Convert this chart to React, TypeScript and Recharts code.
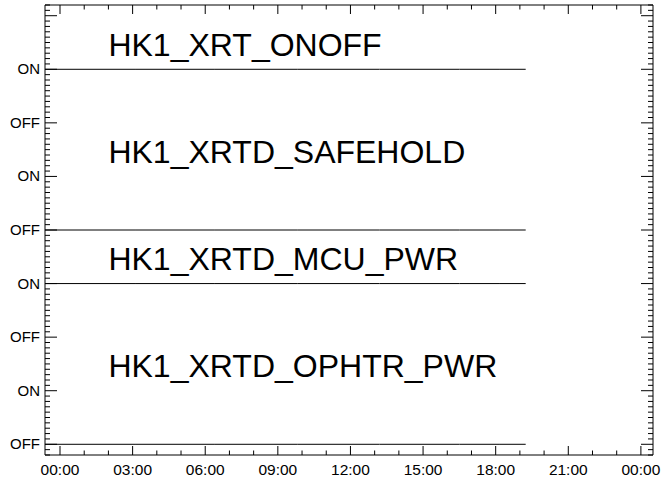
import * as React from "react";
import { LineChart, Line, XAxis, YAxis, ReferenceDot, ReferenceLine } from "recharts";

// sample times in hours since 00:00
const times = [-0.62, 3.1, 6.4, 9.8, 13.2, 16.5, 18.14, 19.24];
// channel states (0 = OFF, 1 = ON)
const xrtOnoff = [1, 1, 1, 1, 1, 1, 1, 1];
const xrtdSafehold = [0, 0, 0, 0, 0, 0, 0, 0];
const xrtdMcuPwr = [1, 1, 1, 1, 1, 1, 1, 1];
const xrtdOphtrPwr = [0, 0, 0, 0, 0, 0, 0, 0];

const channelNames = ["HK1_XRT_ONOFF", "HK1_XRTD_SAFEHOLD", "HK1_XRTD_MCU_PWR", "HK1_XRTD_OPHTR_PWR"];
const channelKeys = ["onoff", "safehold", "mcu", "ophtr"];
const panelBase = [6, 4, 2, 0];
const stateLabels = ["OFF", "ON"];
const xTickLabels = ["00:00", "03:00", "06:00", "09:00", "12:00", "15:00", "18:00", "21:00", "00:00"];

const X_DOMAIN: [number, number] = [-0.62, 24.5];
const Y_DOMAIN: [number, number] = [-0.2, 8.2];
const FONT = '"Liberation Sans", Arial, Helvetica, sans-serif';

const W = 661;
const H = 479;
const MARGIN = { top: 5, right: 8, bottom: 0, left: 0 };
const PLOT_TOP = MARGIN.top;
const PLOT_RIGHT = W - MARGIN.right;

const rows = times.map((t, i) => ({
  t,
  onoff: panelBase[0] + xrtOnoff[i],
  safehold: panelBase[1] + xrtdSafehold[i],
  mcu: panelBase[2] + xrtdMcuPwr[i],
  ophtr: panelBase[3] + xrtdOphtrPwr[i],
}));

const xTicks: number[] = [];
for (let h = 0; h <= 24; h++) xTicks.push(h);
const yTicks: number[] = [];
for (let i = -2; i <= 82; i++) yTicks.push(i / 10);

// bottom tick, mirrored on the top edge
function XTick(props: any) {
  const { x, y, payload } = props;
  const v = payload.value;
  const major = v % 3 === 0;
  const len = major ? 9 : 4.5;
  return (
    <g>
      <line x1={x} x2={x} y1={y} y2={y - len} stroke="#000" strokeWidth={1} />
      <line x1={x} x2={x} y1={PLOT_TOP} y2={PLOT_TOP + len} stroke="#000" strokeWidth={1} />
      {major && (
        <text x={x} y={y + 20} textAnchor="middle" fontSize={15.5} fontFamily={FONT} fill="#000">
          {xTickLabels[v / 3]}
        </text>
      )}
    </g>
  );
}

// left tick, mirrored on the right edge
function YTick(props: any) {
  const { x, y, payload } = props;
  const v = payload.value;
  const major = Number.isInteger(v);
  const len = major ? 12 : 5;
  return (
    <g>
      <line x1={x} x2={x + len} y1={y} y2={y} stroke="#000" strokeWidth={1} />
      <line x1={PLOT_RIGHT} x2={PLOT_RIGHT - len} y1={y} y2={y} stroke="#000" strokeWidth={1} />
      {major && v < 8 && (
        <text x={x - 5} y={y} dy={5} textAnchor="end" fontSize={15} fontFamily={FONT} fill="#000">
          {stateLabels[v % 2]}
        </text>
      )}
    </g>
  );
}

export default function App() {
  return (
    <div style={{ position: "absolute", left: 0, top: 0, background: "#fff" }}>
      <LineChart width={W} height={H} data={rows} margin={MARGIN}>
        <XAxis
          dataKey="t"
          type="number"
          domain={X_DOMAIN}
          allowDataOverflow
          ticks={xTicks}
          interval={0}
          height={24}
          tickSize={0}
          tickMargin={0}
          tickLine={false}
          axisLine={{ stroke: "#000" }}
          tick={XTick}
        />
        <YAxis
          type="number"
          domain={Y_DOMAIN}
          allowDataOverflow
          ticks={yTicks}
          interval={0}
          width={45}
          tickSize={0}
          tickMargin={0}
          tickLine={false}
          axisLine={{ stroke: "#000" }}
          tick={YTick}
        />
        {/* top and right edges of the frame */}
        <ReferenceLine y={Y_DOMAIN[1]} stroke="#000" strokeWidth={1} />
        <ReferenceLine x={X_DOMAIN[1]} stroke="#000" strokeWidth={1} />
        {channelKeys.map((k) => (
          <Line key={k} dataKey={k} type="linear" stroke="#000" strokeWidth={1} dot={false} isAnimationActive={false} />
        ))}
        {channelNames.map((name, i) => (
          <ReferenceDot
            key={name}
            x={2}
            y={panelBase[i] + 1.25}
            r={0}
            fill="none"
            stroke="none"
            label={{
              content: (lp: any) => (
                <text x={lp.viewBox.x} y={lp.viewBox.y} fontSize={32} fontFamily={FONT} fill="#000">
                  {name}
                </text>
              ),
            }}
          />
        ))}
      </LineChart>
    </div>
  );
}
